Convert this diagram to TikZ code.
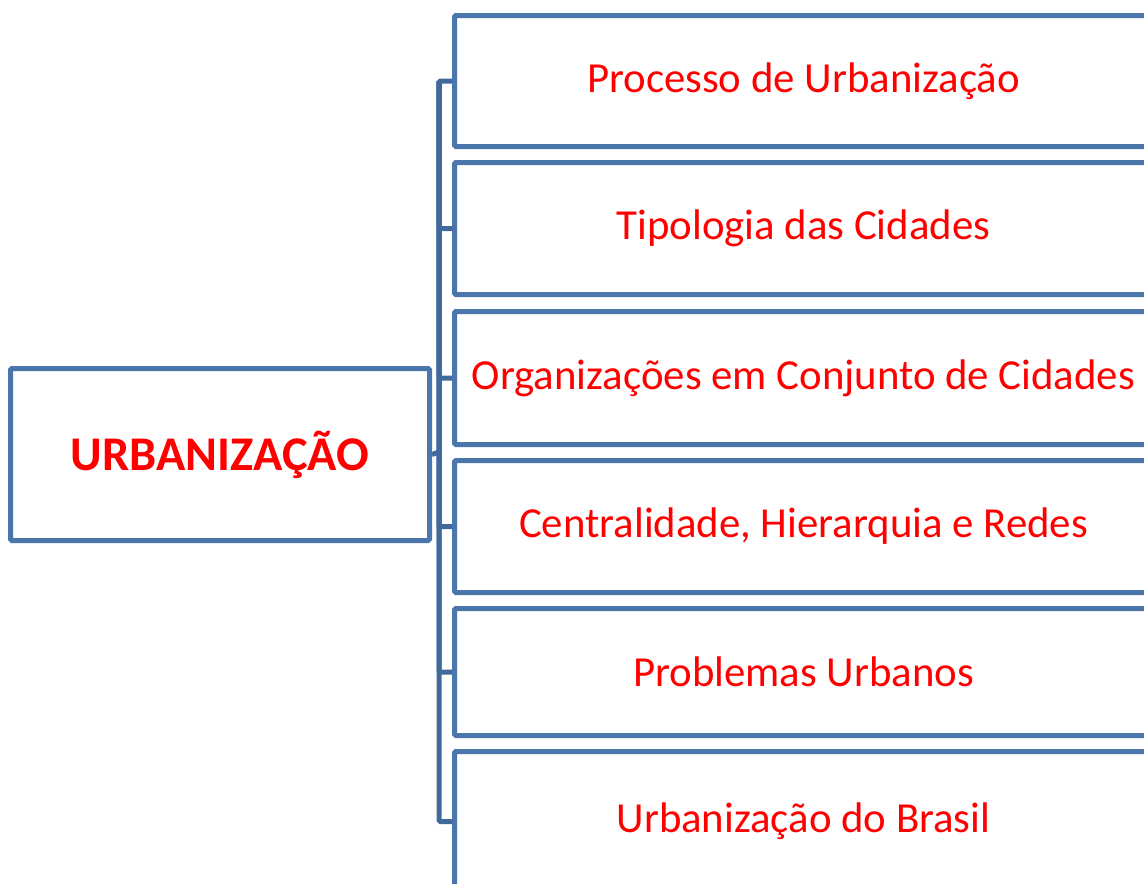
\documentclass[tikz,border=0pt]{standalone}
\usepackage{fontspec}
\setmainfont{Carlito}
\definecolor{boxblue}{HTML}{4A76AC}
\definecolor{linkblue}{HTML}{41699B}
\definecolor{txtred}{HTML}{FF0000}
\begin{document}
\begin{tikzpicture}[x=1pt,y=-1pt,
  topic/.style={draw=boxblue,line width=5pt,rounded corners=1.5pt,fill=white,text=txtred,
    font=\fontsize{42.8}{50}\selectfont,minimum width=698pt,anchor=north west,inner sep=0pt},
  root/.style={draw=boxblue,line width=5pt,rounded corners=1.5pt,fill=white,text=txtred,
    font=\bfseries\fontsize{48.4}{56}\selectfont,minimum width=419pt,minimum height=172pt,anchor=north west,inner sep=0pt},
  link/.style={draw=linkblue,line width=5pt,rounded corners=1.5pt}]
\useasboundingbox (0,0) rectangle (1144,884);
\begin{scope}
\clip (0,0) rectangle (1144,884);
\node[root] (root) at (8,366) {URBANIZAÇÃO};
\node[topic,minimum height=131pt] (t1) at (452,13) {Processo de Urbanização};
\node[topic,minimum height=132pt] (t2) at (452,160) {Tipologia das Cidades};
\node[topic,minimum height=133pt] (t3) at (452,309) {Organizações em Conjunto de Cidades};
\node[topic,minimum height=132pt] (t4) at (452,458) {Centralidade, Hierarquia e Redes};
\node[topic,minimum height=127pt] (t5) at (452,606) {Problemas Urbanos};
\node[topic,minimum height=140pt] (t6) at (452,749) {Urbanização do Brasil};
\coordinate (bx) at (439,452);
\draw[link] (root.east) -- (bx);
\draw[link] (t1.west) -| (bx) |- (t6.west);
\foreach \t in {t2,t3,t4,t5} \draw[link] (t1.west -| bx) |- (\t.west);
\end{scope}
\end{tikzpicture}
\end{document}
